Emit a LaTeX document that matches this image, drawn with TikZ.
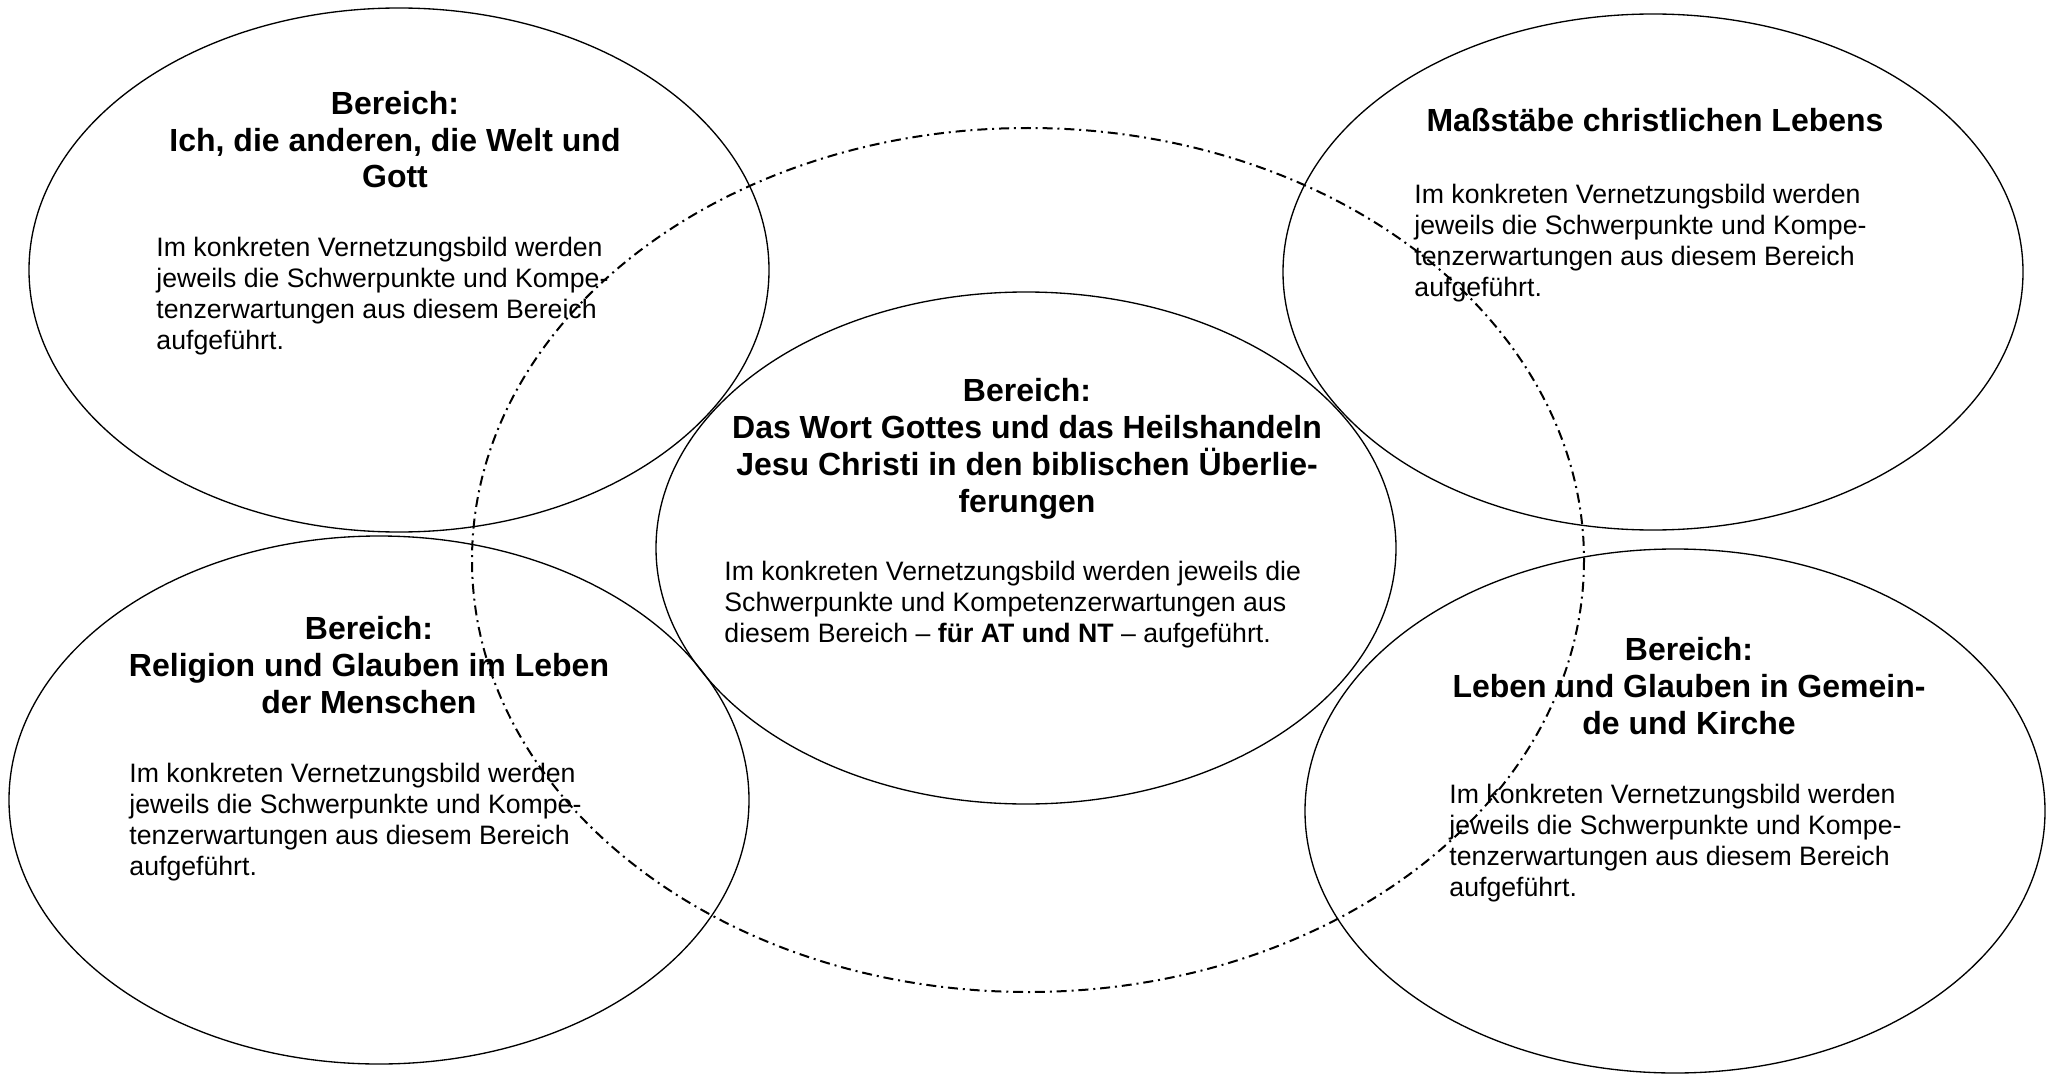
\documentclass[tikz,border=0pt]{standalone}
\usepackage{fontspec}
\setmainfont{Liberation Sans}
\usetikzlibrary{shapes}

\begin{document}
\begin{tikzpicture}[x=0.45pt, y=-0.45pt,
  area/.style={line width=0.6pt},
  ring/.style={line width=0.9pt, dash pattern=on 4.5pt off 2.2pt on 0.9pt off 2.2pt},
  head/.style={anchor=base, align=center, inner sep=0pt, font=\fontsize{14.4}{16.6}\selectfont\bfseries},
  body/.style={anchor=base west, align=left, inner sep=0pt, font=\fontsize{12}{13.9}\selectfont}]
\useasboundingbox (0,0) rectangle (2055,1074);
\draw[area] (399,270) ellipse [x radius=370, y radius=262];
\draw[area] (1653,272) ellipse [x radius=370, y radius=258];
\draw[area] (1026,548) ellipse [x radius=370, y radius=256];
\draw[area] (379,800) ellipse [x radius=370, y radius=264];
\draw[area] (1675,811) ellipse [x radius=370, y radius=262];
\draw[ring] (1028,560) ellipse [x radius=556, y radius=432];
\node[head] (h1) at (395,188) {Bereich:\\Ich, die anderen, die Welt und\\Gott};
\node[body] (b1) at (156,349) {Im konkreten Vernetzungsbild werden\\jeweils die Schwerpunkte und Kompe-\\tenzerwartungen aus diesem Bereich\\aufgeführt.};
\node[head] (h2) at (1655,132) {Maßstäbe christlichen Lebens};
\node[body] (b2) at (1414,296) {Im konkreten Vernetzungsbild werden\\jeweils die Schwerpunkte und Kompe-\\tenzerwartungen aus diesem Bereich\\aufgeführt.};
\node[head] (h3) at (1027,512) {Bereich:\\Das Wort Gottes und das Heilshandeln\\Jesu Christi in den biblischen Überlie-\\ferungen};
\node[body] (b3) at (724,642) {Im konkreten Vernetzungsbild werden jeweils die\\Schwerpunkte und Kompetenzerwartungen aus\\diesem Bereich – \textbf{für AT und NT} – aufgeführt.};
\node[head] (h4) at (369,713) {Bereich:\\Religion und Glauben im Leben\\der Menschen};
\node[body] (b4) at (129,875) {Im konkreten Vernetzungsbild werden\\jeweils die Schwerpunkte und Kompe-\\tenzerwartungen aus diesem Bereich\\aufgeführt.};
\node[head] (h5) at (1689,734) {Bereich:\\Leben und Glauben in Gemein-\\de und Kirche};
\node[body] (b5) at (1449,896) {Im konkreten Vernetzungsbild werden\\jeweils die Schwerpunkte und Kompe-\\tenzerwartungen aus diesem Bereich\\aufgeführt.};
\end{tikzpicture}
\end{document}
